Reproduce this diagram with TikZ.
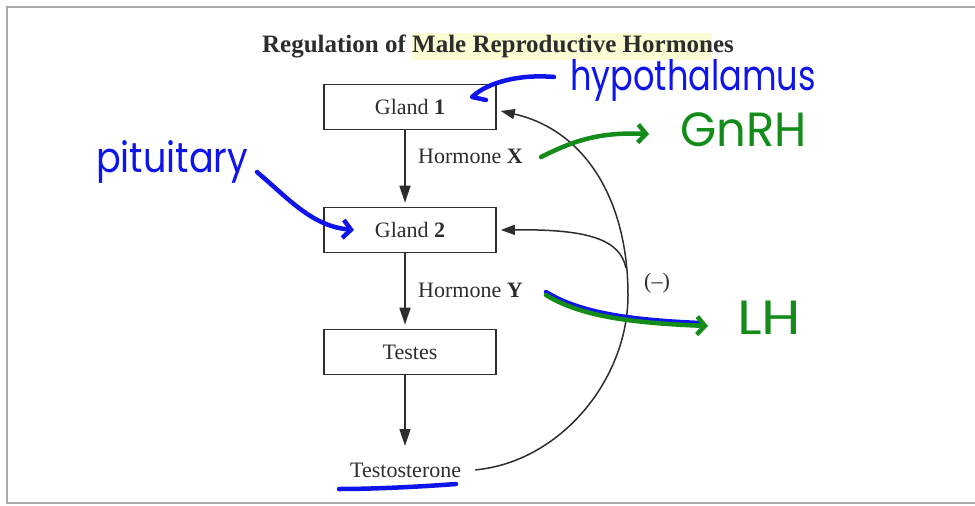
\documentclass[tikz,border=0pt]{standalone}
\usepackage{graphicx}
\usepackage{fontspec}
\setmainfont{Liberation Serif}
\newfontfamily\handfont{Poppins}
\usetikzlibrary{arrows.meta}
\definecolor{inkgray}{RGB}{45,45,45}
\definecolor{framegray}{RGB}{170,170,170}
\definecolor{penblue}{RGB}{15,20,235}
\definecolor{pengreen}{RGB}{20,140,25}
\definecolor{marker}{RGB}{251,251,212}
\tikzset{
  gland/.style={draw=inkgray, line width=1.6pt, minimum width=172pt, minimum height=45pt,
    inner sep=0pt, font=\fontsize{22}{24}\selectfont, text=inkgray},
  lbl/.style={font=\fontsize{22}{24}\selectfont, text=inkgray, inner sep=0pt},
  flow/.style={-{Triangle[length=17pt,width=11pt]}, draw=inkgray, line width=1.6pt},
  fb/.style={-{Triangle[length=14pt,width=10pt]}, draw=inkgray, line width=1.5pt},
  note/.style={font=\handfont\fontsize{30}{32}\selectfont, inner sep=0pt},
  pen/.style={line width=4.5pt, line cap=round, line join=round},
  hook/.style={-{Straight Barb[length=8pt,width=18pt]}},
}
\begin{document}
\begin{tikzpicture}[x=1pt,y=-1pt]
\useasboundingbox (0,0) rectangle (975,506);
% scanned page edge
\draw[framegray, line width=1.2pt] (975,7) -- (7,7) -- (7,503) -- (975,503);
% title with marker highlight
\fill[marker] (412,33) rectangle (712,60);
\node[lbl, font=\bfseries\fontsize{25}{27}\selectfont, anchor=base] (title) at (498,52)
  {Regulation of Male Reproductive Hormones};

% the chain
\node[gland] (g1) at (410,107) {Gland \textbf{1}};
\node[gland] (g2) at (410,230) {Gland \textbf{2}};
\node[gland] (testes) at (410,352) {Testes};
\node[lbl, anchor=base west] (testo) at (350,477) {Testosterone};
\node[lbl, anchor=base west] (hx) at (418,163) {Hormone \textbf{X}};
\node[lbl, anchor=base west] (hy) at (418,297) {Hormone \textbf{Y}};
\node[lbl, anchor=base] (minus) at (657,288) {(--)};

\draw[flow] ([xshift=-5pt]g1.south) -- ([xshift=-5pt,yshift=4pt]g2.north);
\draw[flow] ([xshift=-5pt]g2.south) -- ([xshift=-5pt,yshift=4pt]testes.north);
\draw[flow] ([xshift=-5pt]testes.south) -- ([xshift=-5pt]testes.south |- 0,446);

% negative feedback
\coordinate (turn) at (628,295);
\coordinate (split) at (626,268);
\draw[fb] ([xshift=14pt]testo.east) .. controls (560,462) and (628,380) .. (turn)
  .. controls (628,200) and (585,130) .. ([xshift=4pt,yshift=-4pt]g1.east);
\draw[fb] (split) .. controls (620,240) and (590,229) .. ([xshift=4pt]g2.east);

% handwritten notes
\node[note, text=penblue, anchor=base west] (hypo) at (570,90)
  {\scalebox{1.12}[1.4]{hypothalamus}};
\node[note, text=pengreen, anchor=base west] (gnrh) at (680,146)
  {\scalebox{1.55}[1.6]{GnRH}};
\node[note, text=penblue, anchor=base west] (pit) at (96,172)
  {\scalebox{1.22}[1.4]{pituitary}};
\node[note, text=pengreen, anchor=base west] (lh) at (737,334)
  {\scalebox{1.9}[1.6]{LH}};

\draw[pen, penblue] ([xshift=-16pt,yshift=13pt]hypo.base west) .. controls (520,74) and (488,82) .. (472,97)
  -- (486,100);
\draw[pen, penblue, hook] ([xshift=161pt]pit.base west) .. controls (290,200) and (312,226) .. (354,230);
\draw[pen, pengreen, hook] (541,157) .. controls (575,140) and (600,132) .. ([xshift=-31pt,yshift=12pt]gnrh.base west);
\draw[pen, penblue] (546,292) .. controls (580,313) and (630,320) .. (700,323);
\draw[pen, pengreen, hook] (546,295) .. controls (580,316) and (630,323) .. ([xshift=-29pt,yshift=8pt]lh.base west);
\draw[pen, penblue] ([xshift=-11pt,yshift=-12pt]testo.base west) .. controls (380,489) and (430,486)
  .. ([xshift=106pt,yshift=-7pt]testo.base west);
\end{tikzpicture}
\end{document}
